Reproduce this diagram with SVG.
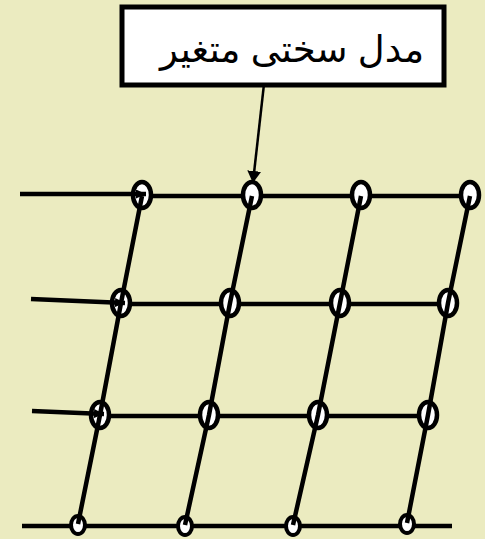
<svg xmlns="http://www.w3.org/2000/svg" width="485" height="539" viewBox="0 0 485 539">
<defs>
<marker id="ah" markerWidth="10" markerHeight="9" refX="10" refY="4.5" orient="auto" markerUnits="userSpaceOnUse">
<path d="M0,0 L10,4.5 L0,9 Z" fill="#000"/>
</marker>
<marker id="ah2" markerWidth="12" markerHeight="14" refX="11" refY="7" orient="auto" markerUnits="userSpaceOnUse">
<path d="M0,0 L12,7 L0,14 Z" fill="#000"/>
</marker>
<style>
.ln{stroke:#000;stroke-width:4.5;fill:none}
.nd{fill:#fff;stroke:#000;stroke-width:4.5}
.sm{fill:#fff;stroke:#000;stroke-width:4}
.lbl{font-family:"Liberation Sans","DejaVu Sans",sans-serif;font-size:37px;fill:#000}
</style>
</defs>
<rect width="485" height="539" fill="#EBEBC0"/>
<g id="label">
<rect x="122" y="7" width="322" height="78" fill="#fff" stroke="#000" stroke-width="5"/>
<text class="lbl" x="292" y="62" text-anchor="middle" direction="rtl">مدل سختی متغیر</text>
</g>
<g id="rows">
<line class="ln" x1="142" y1="196" x2="470" y2="196"/>
<line class="ln" x1="121" y1="304" x2="448" y2="304"/>
<line class="ln" x1="100" y1="416" x2="428" y2="416"/>
<line class="ln" x1="22" y1="526" x2="452" y2="526"/>
</g>
<g id="nodes">
<ellipse id="n11" class="nd" cx="142" cy="195" rx="9" ry="13"/>
<ellipse id="n12" class="nd" cx="252" cy="195" rx="9" ry="13"/>
<ellipse id="n13" class="nd" cx="361" cy="195" rx="9" ry="13"/>
<ellipse id="n14" class="nd" cx="470" cy="195" rx="9" ry="13"/>
<ellipse id="n21" class="nd" cx="121" cy="303" rx="9" ry="13"/>
<ellipse id="n22" class="nd" cx="230" cy="303" rx="9" ry="13"/>
<ellipse id="n23" class="nd" cx="340" cy="303" rx="9" ry="13"/>
<ellipse id="n24" class="nd" cx="448" cy="303" rx="9" ry="13"/>
<ellipse id="n31" class="nd" cx="100" cy="415" rx="9" ry="13"/>
<ellipse id="n32" class="nd" cx="209" cy="415" rx="9" ry="13"/>
<ellipse id="n33" class="nd" cx="318" cy="415" rx="9" ry="13"/>
<ellipse id="n34" class="nd" cx="428" cy="415" rx="9" ry="13"/>
<ellipse id="n41" class="sm" cx="78" cy="525" rx="7" ry="9"/>
<ellipse id="n42" class="sm" cx="185" cy="526" rx="7" ry="9"/>
<ellipse id="n43" class="sm" cx="293" cy="526" rx="7" ry="9"/>
<ellipse id="n44" class="sm" cx="407" cy="524" rx="7" ry="9"/>
</g>
<g id="connectors">
<polyline class="ln" points="142,196 121,303 100,415 78,524"/>
<polyline class="ln" points="252,196 230,303 209,415 185,525"/>
<polyline class="ln" points="361,196 340,303 318,415 293,525"/>
<polyline class="ln" points="470,196 448,303 428,415 407,523"/>
<line class="ln" x1="20" y1="194" x2="146" y2="194" marker-end="url(#ah)"/>
<line class="ln" x1="31" y1="299" x2="125" y2="303" marker-end="url(#ah)"/>
<line class="ln" x1="32" y1="411" x2="104" y2="414" marker-end="url(#ah)"/>
<line x1="264" y1="84" x2="253" y2="182" stroke="#000" stroke-width="2.5" marker-end="url(#ah2)"/>
</g>
</svg>
